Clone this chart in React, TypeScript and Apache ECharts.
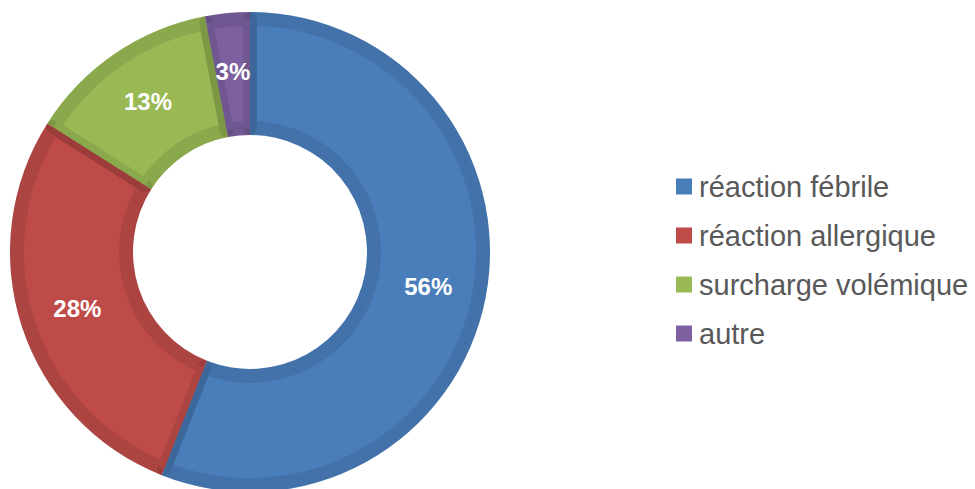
import React, { useEffect, useRef } from "react";
import * as echarts from "echarts";

const categories = ["réaction fébrile", "réaction allergique", "surcharge volémique", "autre"];
const values = [56, 28, 13, 3];
const fillColors = ["#4A7EBB", "#BE4B48", "#98B954", "#7D60A0"];

const FONT = "Liberation Sans, Arial, sans-serif";

export default function App() {
  const ref = useRef<HTMLDivElement>(null);
  useEffect(() => {
    if (!ref.current) return;
    const chart = echarts.init(ref.current, undefined, { renderer: "svg" });
    const center = [250, 252];
    chart.setOption({
      animation: false,
      backgroundColor: "#ffffff",
      textStyle: { fontFamily: FONT },
      legend: {
        orient: "vertical",
        left: 676,
        top: 172,
        padding: 0,
        itemWidth: 16,
        itemHeight: 16,
        itemGap: 20,
        icon: "rect",
        data: categories,
        textStyle: {
          fontSize: 29,
          lineHeight: 29,
          color: "#595959",
          padding: [0, 0, 0, 2],
          fontFamily: FONT,
        },
      },
      series: [
        {
          type: "pie",
          name: "base",
          center,
          radius: [117, 240],
          startAngle: 90,
          clockwise: true,
          silent: true,
          label: { show: false },
          labelLine: { show: false },
          emphasis: { disabled: true },
          itemStyle: { borderWidth: 0 },
          data: categories.map((name, i) => ({
            name,
            value: values[i],
            itemStyle: { color: fillColors[i] },
          })),
        },
        {
          type: "pie",
          name: "inner",
          center,
          radius: [124, 233],
          startAngle: 90,
          clockwise: true,
          avoidLabelOverlap: false,
          label: {
            show: true,
            position: "inside",
            formatter: "{c}%",
            color: "#ffffff",
            fontSize: 24,
            fontWeight: "bold",
            fontFamily: FONT,
          },
          labelLine: { show: false },
          emphasis: { disabled: true },
          data: categories.map((name, i) => ({
            name,
            value: values[i],
            itemStyle: {
              color: fillColors[i],
              borderColor: "rgba(0,0,0,0.09)",
              borderWidth: 14,
            },
          })),
        },
      ],
    });
    return () => chart.dispose();
  }, []);
  return (
    <div
      ref={ref}
      style={{ position: "fixed", left: 0, top: 0, width: 975, height: 489 }}
    />
  );
}
